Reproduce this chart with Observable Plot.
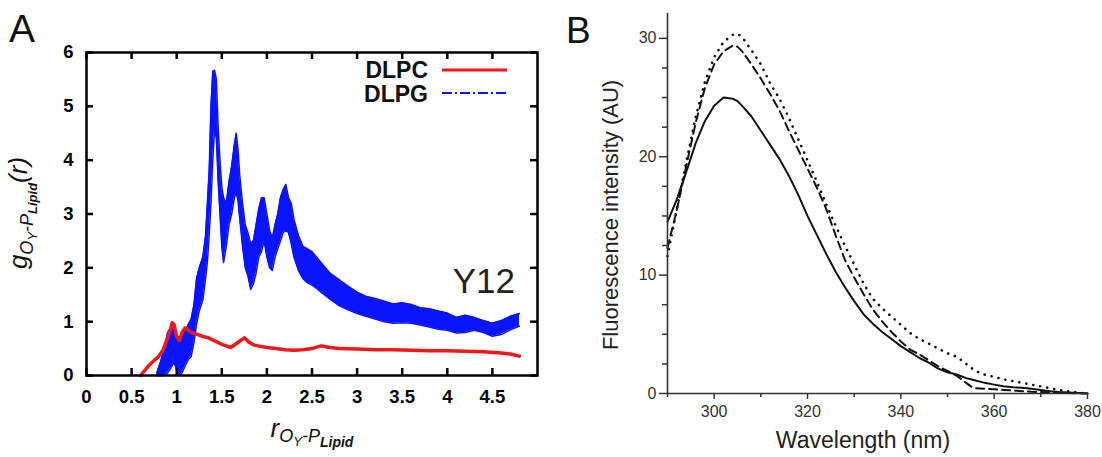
<!DOCTYPE html>
<html>
<head>
<meta charset="utf-8">
<script src="https://cdn.jsdelivr.net/npm/d3@7"></script>
<script src="https://cdn.jsdelivr.net/npm/@observablehq/plot@0.6"></script>
<style>
  html, body { margin: 0; padding: 0; background: #fff; }
  #wrap { position: relative; width: 1102px; height: 457px; overflow: hidden; }
  #wrap svg { position: absolute; top: 0; }
</style>
</head>
<body>
<div id="wrap"></div>
<script>
// ---------- Panel A data ----------
const seriesNames = ["DLPC", "DLPG"];
const blueR  = [0.78,0.82,0.86,0.90,0.94,0.97,1.00,1.03,1.06,1.10,1.13,1.16,1.19,1.22,1.25,1.29,1.32,1.34,1.36,1.38,1.40,1.42,1.44,1.46,1.48,1.50,1.52,1.55,1.58,1.61,1.64,1.66,1.68,1.70,1.73,1.76,1.79,1.82,1.85,1.88,1.91,1.94,1.97,2.00,2.03,2.06,2.09,2.12,2.15,2.18,2.21,2.24,2.27,2.30,2.35,2.40,2.45,2.50,2.55,2.60,2.70,2.80,2.90,3.00,3.10,3.20,3.30,3.40,3.50,3.60,3.70,3.80,3.90,4.00,4.10,4.20,4.30,4.40,4.50,4.60,4.70,4.80];
const blueLo = [0,0,0,0.05,0.15,0.25,0.1,0,0.05,0.2,0.3,0.35,0.6,0.95,1.2,1.4,1.8,2.1,2.6,3.2,4.0,4.6,4.4,3.6,3.0,2.4,2.1,2.4,2.8,3.0,3.3,3.4,3.25,2.9,2.4,2.0,1.85,1.6,1.7,1.9,2.2,2.3,2.5,2.2,2.0,1.95,2.2,2.35,2.5,2.65,2.7,2.65,2.45,2.2,1.95,1.8,1.72,1.68,1.62,1.55,1.42,1.3,1.22,1.15,1.1,1.05,1.0,0.97,0.98,0.97,0.94,0.9,0.86,0.84,0.79,0.8,0.84,0.8,0.73,0.76,0.85,0.92];
const blueHi = [0.05,0.25,0.5,0.8,0.9,0.85,0.75,0.7,0.7,0.85,0.95,1.05,1.3,1.8,2.0,2.2,2.6,3.2,3.8,5.0,5.65,5.67,5.5,4.6,4.0,3.5,3.3,3.2,3.6,3.9,4.3,4.5,4.2,3.7,3.2,2.8,2.65,2.45,2.5,2.8,3.1,3.3,3.3,3.0,2.7,2.55,2.8,3.0,3.3,3.45,3.55,3.3,3.2,2.9,2.6,2.4,2.35,2.3,2.2,2.1,1.9,1.78,1.66,1.55,1.47,1.43,1.38,1.33,1.35,1.32,1.26,1.24,1.2,1.16,1.08,1.12,1.08,1.02,0.97,1.02,1.1,1.15];
const redR = [0.60,0.65,0.70,0.75,0.80,0.85,0.90,0.93,0.95,0.97,1.00,1.03,1.06,1.09,1.12,1.16,1.20,1.25,1.30,1.35,1.40,1.45,1.50,1.55,1.60,1.65,1.70,1.75,1.80,1.85,1.90,2.00,2.10,2.20,2.30,2.40,2.50,2.60,2.70,2.80,3.00,3.20,3.40,3.60,3.80,4.00,4.20,4.40,4.60,4.70,4.80];
const redG = [0,0.1,0.2,0.28,0.35,0.48,0.7,0.85,0.98,0.95,0.72,0.65,0.8,0.88,0.85,0.8,0.78,0.75,0.72,0.7,0.66,0.62,0.58,0.55,0.52,0.58,0.64,0.7,0.62,0.57,0.55,0.52,0.5,0.48,0.47,0.48,0.5,0.55,0.52,0.5,0.49,0.48,0.48,0.47,0.46,0.46,0.45,0.44,0.42,0.4,0.36];
const aXTicks = [0,0.5,1,1.5,2,2.5,3,3.5,4,4.5];
const aYTicks = [0,1,2,3,4,5,6];

// ---------- Panel B data ----------
const wl = [290,292,294,296,298,300,302,304,305,306,308,310,312,314,316,318,320,322,324,326,328,330,332,334,336,338,340,342,344,346,348,350,352,354,355,356,358,360,362,364,366,368,370,372,374,376,378,380];
const solidF  = [14.5,16.4,18.7,21.1,23.0,24.3,25.0,24.9,24.7,24.3,23.4,22.2,21.0,19.8,18.4,16.8,15.0,13.4,11.8,10.3,9.0,7.8,6.7,5.9,5.2,4.6,4.0,3.5,3.0,2.6,2.1,1.8,1.6,1.3,1.2,1.1,0.9,0.75,0.62,0.52,0.48,0.4,0.3,0.2,0.13,0.08,0.04,0];
const dashedF = [12.3,15.5,19.2,22.8,25.8,27.8,28.9,29.4,29.3,28.9,27.8,26.6,25.3,23.9,22.2,20.6,19.0,17.4,15.6,13.4,11.3,9.8,8.4,7.1,6.1,5.2,4.4,3.7,3.3,2.8,2.3,1.9,1.5,0.9,0.6,0.45,0.4,0.35,0.3,0.25,0.2,0.15,0.12,0.1,0.07,0.04,0.02,0];
const dottedF = [11.6,15.6,19.5,23.3,26.3,28.4,29.7,30.3,30.4,30.1,29.0,27.8,26.2,24.9,23.3,21.5,19.7,17.9,16.0,14.2,12.5,10.9,9.3,8.0,7.2,6.5,5.8,5.1,4.6,4.2,3.8,3.4,3.1,2.5,2.2,1.9,1.6,1.4,1.2,1.05,0.9,0.75,0.6,0.45,0.3,0.18,0.08,0];
const bXMajor = [300,320,340,360,380];
const bXMinor = [290,310,330,350,370];
const bYMajor = [0,10,20,30];
const bYMinor = [2.5,5,7.5,12.5,15,17.5,22.5,25,27.5];

const BLUE = "#0a14ff", RED = "#f01818";
const blue = blueR.map((r, i) => ({r, lo: blueLo[i], hi: blueHi[i]}));
const red = redR.map((r, i) => ({r, g: redG[i]}));

const wrap = document.getElementById("wrap");
const FONT = "Liberation Sans, Arial, sans-serif";

// ---------- Panel A ----------
const AW = 560, AH = 457, AML = 86, AMR = 23, AMT = 52, AMB = 82, TICK = 7;
const frameW = AW - AML - AMR, frameH = AH - AMT - AMB;
const A = Plot.plot({
  width: AW, height: AH,
  marginLeft: AML, marginRight: AMR, marginTop: AMT, marginBottom: AMB,
  x: {domain: [0, 5]},
  y: {domain: [0, 6]},
  style: {fontFamily: FONT, background: "transparent", color: "#000"},
  marks: [
    Plot.areaY(blue, {x: "r", y1: "lo", y2: "hi", fill: BLUE}),
    Plot.line(blue, {x: "r", y: "hi", stroke: BLUE, strokeWidth: 1.5}),
    Plot.line(blue, {x: "r", y: "lo", stroke: BLUE, strokeWidth: 1.5}),
    Plot.line(red, {x: "r", y: "g", stroke: RED, strokeWidth: 3.5}),
    // inward mirrored ticks
    Plot.tickX(aXTicks, {x: d => d, stroke: "#000", strokeWidth: 2.5, insetTop: frameH - TICK}),
    Plot.tickX(aXTicks, {x: d => d, stroke: "#000", strokeWidth: 2.5, insetBottom: frameH - TICK}),
    Plot.tickY(aYTicks, {y: d => d, stroke: "#000", strokeWidth: 2.5, insetRight: frameW - TICK}),
    Plot.tickY(aYTicks, {y: d => d, stroke: "#000", strokeWidth: 2.5, insetLeft: frameW - TICK}),
    Plot.axisX(aXTicks, {anchor: "bottom", tickSize: 0, tickPadding: 14, fontSize: 18.5, fontWeight: "bold", fill: "#000", label: null, tickFormat: d => String(d)}),
    Plot.axisY(aYTicks, {anchor: "left", tickSize: 0, tickPadding: 13, fontSize: 18.5, fontWeight: "bold", fill: "#000", label: null, tickFormat: d => String(d)}),
    Plot.frame({stroke: "#000", strokeWidth: 2.5})
  ]
});
A.style.left = "0px";
wrap.appendChild(A);

const sa = d3.select(A);
sa.append("text").attr("x", 9).attr("y", 42).attr("text-anchor", "start").attr("font-family", FONT).attr("font-size", 39).attr("fill", "#111").text("A");
sa.append("text").attr("x", 515).attr("y", 293).attr("text-anchor", "end").attr("font-family", FONT).attr("font-size", 35).attr("fill", "#222").text("Y12");
// legend
const leg = [{name: seriesNames[0], color: RED, y: 78, ly: 70, dash: null, w: 3}, {name: seriesNames[1], color: BLUE, y: 102, ly: 93, dash: "10,3,2,3", w: 2}];
leg.forEach(d => {
  sa.append("text").attr("x", 428).attr("y", d.y).attr("text-anchor", "end")
    .attr("font-family", FONT).attr("font-weight", "bold").attr("font-size", 23).attr("fill", "#111").text(d.name);
  const ln = sa.append("line").attr("x1", 442).attr("x2", 507).attr("y1", d.ly).attr("y2", d.ly).attr("stroke", d.color).attr("stroke-width", d.w);
  if (d.dash) ln.attr("stroke-dasharray", d.dash);
});
// y label
const yl = sa.append("text").attr("transform", "translate(27,213) rotate(-90)").attr("text-anchor", "middle")
  .attr("font-family", FONT).attr("font-style", "italic").attr("fill", "#111");
yl.append("tspan").attr("font-size", 26).text("g");
yl.append("tspan").attr("font-size", 18).attr("dy", 6).text("O");
yl.append("tspan").attr("font-size", 13).attr("dy", 4).text("Y");
yl.append("tspan").attr("font-size", 18).attr("dy", -4).text("-P");
yl.append("tspan").attr("font-size", 13).attr("font-weight", "bold").attr("dy", 4).text("Lipid");
yl.append("tspan").attr("font-size", 26).attr("dy", -10).text("(r)");
// x label
const xl = sa.append("text").attr("x", 312).attr("y", 437).attr("text-anchor", "middle")
  .attr("font-family", FONT).attr("font-style", "italic").attr("fill", "#111");
xl.append("tspan").attr("font-size", 26).text("r");
xl.append("tspan").attr("font-size", 18).attr("dy", 5).text("O");
xl.append("tspan").attr("font-size", 13).attr("dy", 4).text("Y");
xl.append("tspan").attr("font-size", 18).attr("dy", -4).text("-P");
xl.append("tspan").attr("font-size", 14).attr("font-weight", "bold").attr("dy", 5).text("Lipid");

// ---------- Panel B ----------
const bData = wl.map((w, i) => ({w, solid: solidF[i], dashed: dashedF[i], dotted: dottedF[i]}));
const AX = "#333";
const B = Plot.plot({
  width: 542, height: 457,
  marginLeft: 107, marginRight: 15, marginTop: 13, marginBottom: 64,
  x: {domain: [290, 380]},
  y: {domain: [0, 32.1]},
  style: {fontFamily: FONT, background: "transparent", color: AX},
  marks: [
    Plot.line(bData, {x: "w", y: "dotted", stroke: "#111", strokeWidth: 2.6, strokeDasharray: "0.1,7", strokeLinecap: "round"}),
    Plot.line(bData, {x: "w", y: "dashed", stroke: "#111", strokeWidth: 2, strokeDasharray: "8,5"}),
    Plot.line(bData, {x: "w", y: "solid", stroke: "#111", strokeWidth: 2}),
    Plot.ruleX([290], {stroke: AX, strokeWidth: 1.6}),
    Plot.ruleY([0], {stroke: AX, strokeWidth: 1.6}),
    Plot.axisX(bXMajor, {anchor: "bottom", tickSize: 6, tickPadding: 6, fontSize: 16, fill: AX, stroke: AX, strokeWidth: 1.5, label: null}),
    Plot.axisX(bXMinor, {anchor: "bottom", tickSize: 4, stroke: AX, strokeWidth: 1.5, label: null, tickFormat: () => ""}),
    Plot.axisY(bYMajor, {anchor: "left", tickSize: 8, tickPadding: 3, fontSize: 16, fill: AX, stroke: AX, strokeWidth: 1.5, label: null}),
    Plot.axisY(bYMinor, {anchor: "left", tickSize: 5, stroke: AX, strokeWidth: 1.5, label: null, tickFormat: () => ""})
  ]
});
B.style.left = "560px";
wrap.appendChild(B);
const sb = d3.select(B);
sb.append("text").attr("x", 6).attr("y", 43).attr("text-anchor", "start").attr("font-family", FONT).attr("font-size", 37).attr("fill", "#111").text("B");
sb.append("text").attr("transform", "translate(58,215) rotate(-90)").attr("text-anchor", "middle")
  .attr("font-family", FONT).attr("font-size", 22).attr("fill", "#222").text("Fluorescence intensity (AU)");
sb.append("text").attr("x", 303).attr("y", 448).attr("text-anchor", "middle")
  .attr("font-family", FONT).attr("font-size", 23).attr("fill", "#222").text("Wavelength (nm)");
</script>
</body>
</html>
